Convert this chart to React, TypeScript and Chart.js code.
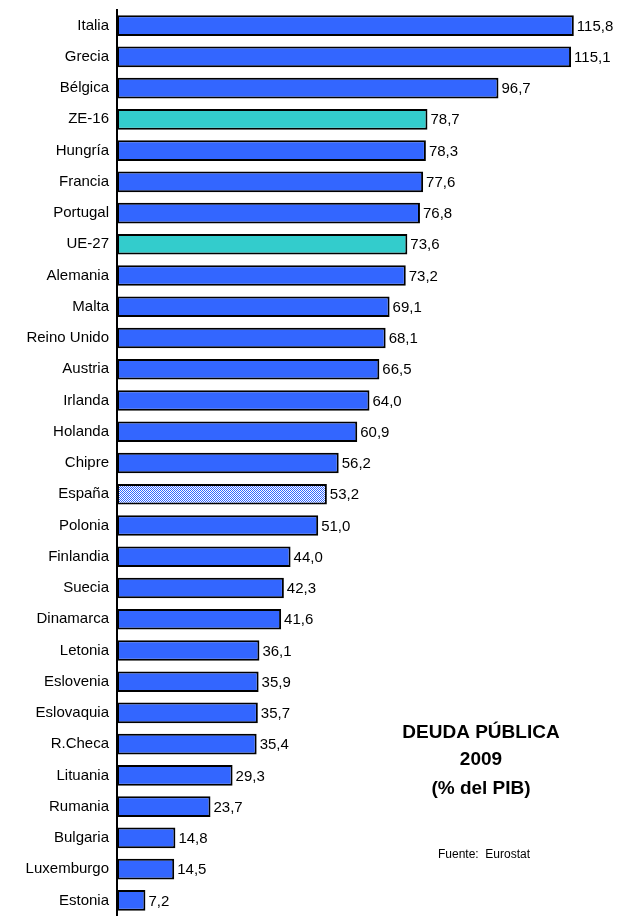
import React, { useEffect, useRef } from "react";
import { Chart, registerables } from "chart.js";

Chart.register(...registerables);

const countries = [
  "Italia", "Grecia", "Bélgica", "ZE-16", "Hungría", "Francia", "Portugal", "UE-27",
  "Alemania", "Malta", "Reino Unido", "Austria", "Irlanda", "Holanda", "Chipre", "España",
  "Polonia", "Finlandia", "Suecia", "Dinamarca", "Letonia", "Eslovenia", "Eslovaquia",
  "R.Checa", "Lituania", "Rumania", "Bulgaria", "Luxemburgo", "Estonia",
];
const debt = [
  115.8, 115.1, 96.7, 78.7, 78.3, 77.6, 76.8, 73.6, 73.2, 69.1, 68.1, 66.5, 64.0, 60.9,
  56.2, 53.2, 51.0, 44.0, 42.3, 41.6, 36.1, 35.9, 35.7, 35.4, 29.3, 23.7, 14.8, 14.5, 7.2,
];
const aggregates = ["ZE-16", "UE-27"];
const highlighted = ["España"];
const titleLines = ["DEUDA PÚBLICA", "2009", "(% del PIB)"];
const sourceNote = "Fuente:  Eurostat";

const BLUE = "#3366FF";
const TEAL = "#33CCCC";
const FONT = "'Liberation Sans', Arial, sans-serif";

function makePattern(): CanvasPattern | string {
  const c = document.createElement("canvas");
  c.width = 2;
  c.height = 2;
  const g = c.getContext("2d");
  if (!g) return BLUE;
  g.fillStyle = "#ffffff";
  g.fillRect(0, 0, 2, 2);
  g.fillStyle = BLUE;
  g.fillRect(0, 0, 1, 1);
  g.fillRect(1, 1, 1, 1);
  const p = g.createPattern(c, "repeat");
  return p || BLUE;
}

export default function App() {
  const ref = useRef<HTMLCanvasElement | null>(null);
  useEffect(() => {
    document.body.style.margin = "0";
    const canvas = ref.current;
    if (!canvas) return;
    const pattern = makePattern();
    const colors = countries.map((c) =>
      highlighted.includes(c) ? pattern : aggregates.includes(c) ? TEAL : BLUE
    );

    const labelPlugin = {
      id: "valueLabels",
      afterDatasetsDraw(chart: any) {
        const ctx = chart.ctx;
        const meta = chart.getDatasetMeta(0);
        ctx.save();
        ctx.fillStyle = "#000";
        ctx.font = `15px ${FONT}`;
        ctx.textAlign = "left";
        ctx.textBaseline = "middle";
        meta.data.forEach((el: any, i: number) => {
          const txt = debt[i].toFixed(1).replace(".", ",");
          ctx.fillText(txt, el.x + 3, el.y + 1);
        });
        ctx.restore();
      },
    };

    const textPlugin = {
      id: "titleText",
      afterDraw(chart: any) {
        const ctx = chart.ctx;
        ctx.save();
        ctx.fillStyle = "#000";
        ctx.textAlign = "center";
        ctx.textBaseline = "middle";
        ctx.font = `bold 19px ${FONT}`;
        const ys = [733, 760, 789];
        titleLines.forEach((t, i) => ctx.fillText(t, 481, ys[i]));
        ctx.font = `12px ${FONT}`;
        ctx.fillText(sourceNote, 484, 855);
        ctx.restore();
      },
    };

    const chart = new Chart(canvas, {
      type: "bar",
      data: {
        labels: countries,
        datasets: [
          {
            data: debt,
            backgroundColor: colors as any,
            borderColor: "#000",
            borderWidth: 2,
            borderSkipped: false,
            categoryPercentage: 1,
            barPercentage: 0.66,
          },
        ],
      },
      options: {
        indexAxis: "y",
        animation: false,
        responsive: false,
        maintainAspectRatio: false,
        layout: { padding: { top: 10, right: 8, bottom: 0, left: 0 } },
        plugins: {
          legend: { display: false },
          tooltip: { enabled: false },
          title: { display: false },
        },
        scales: {
          x: {
            display: false,
            min: 0,
            max: 127,
          },
          y: {
            grid: { display: false, drawTicks: false },
            border: { display: true, color: "#000", width: 2 },
            ticks: {
              color: "#000",
              font: { family: FONT, size: 15 },
              padding: 8,
            },
            afterFit(scale: any) {
              scale.width = 117;
              scale.paddingTop = 0;
              scale.paddingBottom = 0;
            },
          },
        },
      },
      plugins: [labelPlugin, textPlugin],
    });
    return () => chart.destroy();
  }, []);

  return <canvas ref={ref} width={626} height={916} style={{ display: "block" }} />;
}
